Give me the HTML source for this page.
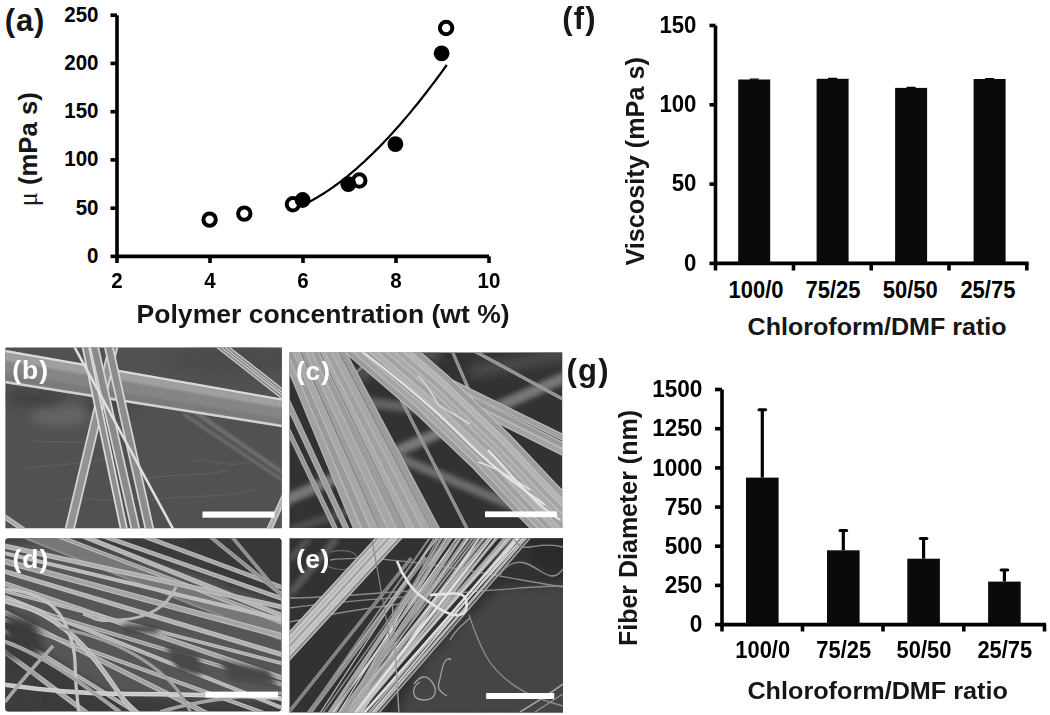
<!DOCTYPE html>
<html><head><meta charset="utf-8"><style>
html,body{margin:0;padding:0;background:#fff;}
body{width:1050px;height:715px;overflow:hidden;}
svg{display:block;}
text{font-family:"Liberation Sans", sans-serif;}
</style></head><body>
<svg width="1050" height="715" viewBox="0 0 1050 715">
<rect width="1050" height="715" fill="#fff"/>
<defs>
<filter id="b1" x="-50%" y="-50%" width="200%" height="200%"><feGaussianBlur stdDeviation="1"/></filter>
<filter id="b2" x="-50%" y="-50%" width="200%" height="200%"><feGaussianBlur stdDeviation="2.5"/></filter>
<filter id="b3" x="-50%" y="-50%" width="200%" height="200%"><feGaussianBlur stdDeviation="5"/></filter>
<filter id="b04" x="0" y="0" width="100%" height="100%"><feGaussianBlur stdDeviation="0.45"/></filter>
<filter id="b05" x="-50%" y="-50%" width="200%" height="200%"><feGaussianBlur stdDeviation="0.6"/></filter>
<clipPath id="cb"><rect x="5.4" y="347.4" width="276.5" height="180.8"/></clipPath>
<clipPath id="cc"><rect x="289.5" y="352.6" width="272.7" height="175.4"/></clipPath>
<clipPath id="cd"><rect x="5.2" y="538.3" width="276.2" height="173.2" rx="3"/></clipPath>
<clipPath id="ce"><rect x="289.5" y="538.2" width="273.5" height="174.3"/></clipPath>
</defs>
<g filter="url(#b04)">
<g clip-path="url(#cb)">
<rect x="0" y="340" width="290" height="195" fill="#515151"/>
<ellipse cx="60" cy="415" rx="30" ry="12" fill="#646464" filter="url(#b3)"/>
<ellipse cx="35" cy="398" rx="30" ry="9" fill="#424242" filter="url(#b3)"/>
<ellipse cx="110" cy="405" rx="25" ry="8" fill="#444" filter="url(#b3)"/>
<ellipse cx="230" cy="360" rx="60" ry="14" fill="#4c4c4c" filter="url(#b3)"/>
<g filter="url(#b1)"><line x1="193.2" y1="410.8" x2="296.8" y2="482.2" stroke="#7a7a7a" stroke-width="4"/><line x1="193.2" y1="410.8" x2="296.8" y2="482.2" stroke="#6a6a6a" stroke-width="2.00"/></g>
<g filter="url(#b1)"><line x1="183.6" y1="414.0" x2="298.4" y2="491.0" stroke="#727272" stroke-width="3"/><line x1="183.6" y1="414.0" x2="298.4" y2="491.0" stroke="#646464" stroke-width="1.00"/></g>
<path d="M20 470 C 50 462, 80 468, 120 455" fill="none" stroke="#5c5c5c" stroke-width="1.3" filter="url(#b05)"/>
<path d="M150 500 C 190 494, 220 500, 260 488" fill="none" stroke="#5c5c5c" stroke-width="1.3" filter="url(#b05)"/>
<path d="M190 462 C 205 455, 225 470, 250 462" fill="none" stroke="#5c5c5c" stroke-width="1.3" filter="url(#b05)"/>
<path d="M30 440 C 50 445, 70 438, 90 445" fill="none" stroke="#5c5c5c" stroke-width="1.3" filter="url(#b05)"/>
<path d="M140 480 C 170 472, 200 478, 230 470" fill="none" stroke="#5c5c5c" stroke-width="1.3" filter="url(#b05)"/>
<path d="M60 500 C 90 495, 110 505, 140 498" fill="none" stroke="#5c5c5c" stroke-width="1.3" filter="url(#b05)"/>
<g><line x1="201.7" y1="333.6" x2="299.3" y2="410.4" stroke="#cfcfcf" stroke-width="4.2"/><line x1="201.7" y1="333.6" x2="299.3" y2="410.4" stroke="#8a8a8a" stroke-width="1.80"/></g>
<g><line x1="209.7" y1="333.6" x2="307.3" y2="410.4" stroke="#cfcfcf" stroke-width="4.2"/><line x1="209.7" y1="333.6" x2="307.3" y2="410.4" stroke="#8a8a8a" stroke-width="1.80"/></g>
<polygon points="-5,348.2 295,401.0 295,429.1 -5,381.7" fill="#858585"/>
<polygon points="-5,350.2 295,402.7 295,410.0 -5,359.0" fill="#a0a0a0" filter="url(#b1)"/>
<polygon points="-5,371.7 295,420.7 295,426.9 -5,379.0" fill="#7a7a7a" filter="url(#b1)"/>
<line x1="-5" y1="349.2" x2="295" y2="401.9" stroke="#d8d8d8" stroke-width="2.4"/>
<line x1="-5" y1="380.5" x2="295" y2="428.1" stroke="#d2d2d2" stroke-width="2.4"/>
<g><line x1="117.3" y1="330.0" x2="65.7" y2="546.0" stroke="#d6d6d6" stroke-width="10"/><line x1="117.3" y1="330.0" x2="65.7" y2="546.0" stroke="#939393" stroke-width="6.60"/></g>
<g><line x1="82.2" y1="330.1" x2="127.2" y2="544.9" stroke="#dcdcdc" stroke-width="8"/><line x1="82.2" y1="330.1" x2="127.2" y2="544.9" stroke="#8e8e8e" stroke-width="4.60"/></g>
<g><line x1="90.3" y1="330.1" x2="139.1" y2="544.9" stroke="#d6d6d6" stroke-width="9.5"/><line x1="90.3" y1="330.1" x2="139.1" y2="544.9" stroke="#8a8a8a" stroke-width="6.10"/></g>
<g><line x1="105.0" y1="330.1" x2="153.0" y2="544.9" stroke="#d6d6d6" stroke-width="9.5"/><line x1="105.0" y1="330.1" x2="153.0" y2="544.9" stroke="#8c8c8c" stroke-width="6.10"/></g>
<g><line x1="65.3" y1="330.1" x2="181.7" y2="544.9" stroke="#dadada" stroke-width="2.6"/><line x1="65.3" y1="330.1" x2="181.7" y2="544.9" stroke="#e4e4e4" stroke-width="1.00"/></g>
<g><line x1="-11.0" y1="506.0" x2="37.0" y2="539.0" stroke="#ccc" stroke-width="5"/><line x1="-11.0" y1="506.0" x2="37.0" y2="539.0" stroke="#aaa" stroke-width="3.00"/></g>
<g><line x1="267.6" y1="533.3" x2="288.0" y2="488.2" stroke="#d0d0d0" stroke-width="6"/><line x1="267.6" y1="533.3" x2="288.0" y2="488.2" stroke="#b0b0b0" stroke-width="3.40"/></g>
</g>
<text x="12.3" y="379.3" font-size="26.5" font-weight="bold" fill="#fff" letter-spacing="1">(b)</text>
<rect x="202.5" y="511.5" width="72" height="6.2" fill="#fff"/>
<g clip-path="url(#cc)">
<rect x="280" y="345" width="290" height="190" fill="#323232"/>
<line x1="270" y1="507" x2="575" y2="373" stroke="#787878" stroke-width="11" filter="url(#b2)"/>
<line x1="385" y1="452" x2="575" y2="532" stroke="#6e6e6e" stroke-width="9" filter="url(#b2)"/>
<line x1="330" y1="398" x2="430" y2="410" stroke="#646464" stroke-width="10" filter="url(#b2)"/>
<line x1="289" y1="530" x2="400" y2="495" stroke="#505050" stroke-width="8" filter="url(#b2)"/>
<line x1="470" y1="372" x2="575" y2="352" stroke="#484848" stroke-width="14" filter="url(#b3)"/>
<line x1="289" y1="372" x2="340" y2="388" stroke="#5a5a5a" stroke-width="10" filter="url(#b2)"/>
<line x1="340" y1="380" x2="440" y2="352" stroke="#585858" stroke-width="10" filter="url(#b3)"/>
<g><line x1="450.2" y1="346.5" x2="492.2" y2="444.0" stroke="#9e9e9e" stroke-width="3.2"/><line x1="450.2" y1="346.5" x2="492.2" y2="444.0" stroke="#8e8e8e" stroke-width="1.60"/></g>
<g><line x1="469.7" y1="348.5" x2="569.3" y2="402.5" stroke="#a4a4a4" stroke-width="3.4"/><line x1="469.7" y1="348.5" x2="569.3" y2="402.5" stroke="#929292" stroke-width="1.80"/></g>
<g><line x1="378.9" y1="356.5" x2="471.5" y2="537.3" stroke="#a0a0a0" stroke-width="3.2"/><line x1="378.9" y1="356.5" x2="471.5" y2="537.3" stroke="#8a8a8a" stroke-width="1.60"/></g>
<g><line x1="324.0" y1="401.0" x2="369.0" y2="361.0" stroke="#8a8a8a" stroke-width="2.5"/><line x1="324.0" y1="401.0" x2="369.0" y2="361.0" stroke="#7a7a7a" stroke-width="1.30"/></g>
<g><line x1="350.8" y1="333.0" x2="575.2" y2="443.5" stroke="#bcbcbc" stroke-width="6.5"/><line x1="350.8" y1="333.0" x2="575.2" y2="443.5" stroke="#a0a0a0" stroke-width="4.30"/></g>
<g><line x1="350.8" y1="339.4" x2="575.2" y2="451.6" stroke="#bcbcbc" stroke-width="6.5"/><line x1="350.8" y1="339.4" x2="575.2" y2="451.6" stroke="#9a9a9a" stroke-width="4.30"/></g>
<g><line x1="350.8" y1="346.4" x2="575.2" y2="458.6" stroke="#bcbcbc" stroke-width="6.5"/><line x1="350.8" y1="346.4" x2="575.2" y2="458.6" stroke="#a4a4a4" stroke-width="4.30"/></g>
<g fill="none"><path stroke-linejoin="round" d="M312.8 319.2 L346.3 349.6 L415.4 409.0 L476.2 467.0 L520.4 514.0 L562.8 557.2" stroke="#c2c2c2" stroke-width="7"/><path stroke-linejoin="round" d="M312.8 319.2 L346.3 349.6 L415.4 409.0 L476.2 467.0 L520.4 514.0 L562.8 557.2" stroke="#9c9c9c" stroke-width="5.00"/></g>
<g fill="none"><path stroke-linejoin="round" d="M316.6 315.4 L350.1 345.8 L419.2 405.2 L480.0 463.2 L524.2 510.1 L566.6 553.4" stroke="#c2c2c2" stroke-width="7"/><path stroke-linejoin="round" d="M316.6 315.4 L350.1 345.8 L419.2 405.2 L480.0 463.2 L524.2 510.1 L566.6 553.4" stroke="#a6a6a6" stroke-width="5.00"/></g>
<g fill="none"><path stroke-linejoin="round" d="M320.5 311.5 L354.0 341.9 L423.1 401.3 L483.9 459.3 L528.1 506.3 L570.5 549.5" stroke="#c2c2c2" stroke-width="7"/><path stroke-linejoin="round" d="M320.5 311.5 L354.0 341.9 L423.1 401.3 L483.9 459.3 L528.1 506.3 L570.5 549.5" stroke="#a0a0a0" stroke-width="5.00"/></g>
<g fill="none"><path stroke-linejoin="round" d="M324.4 307.6 L357.9 338.0 L427.0 397.4 L487.8 455.4 L532.0 502.4 L574.4 545.6" stroke="#c2c2c2" stroke-width="7"/><path stroke-linejoin="round" d="M324.4 307.6 L357.9 338.0 L427.0 397.4 L487.8 455.4 L532.0 502.4 L574.4 545.6" stroke="#b0b0b0" stroke-width="5.00"/></g>
<g fill="none"><path stroke-linejoin="round" d="M328.2 303.8 L361.7 334.2 L430.8 393.6 L491.6 451.6 L535.8 498.6 L578.2 541.8" stroke="#c2c2c2" stroke-width="7"/><path stroke-linejoin="round" d="M328.2 303.8 L361.7 334.2 L430.8 393.6 L491.6 451.6 L535.8 498.6 L578.2 541.8" stroke="#a2a2a2" stroke-width="5.00"/></g>
<g fill="none"><path stroke-linejoin="round" d="M332.1 299.9 L365.6 330.3 L434.7 389.8 L495.4 447.8 L539.6 494.7 L582.0 538.0" stroke="#c2c2c2" stroke-width="7"/><path stroke-linejoin="round" d="M332.1 299.9 L365.6 330.3 L434.7 389.8 L495.4 447.8 L539.6 494.7 L582.0 538.0" stroke="#aaaaaa" stroke-width="5.00"/></g>
<g fill="none"><path stroke-linejoin="round" d="M335.9 296.1 L369.4 326.5 L438.5 385.9 L499.3 443.9 L543.5 490.9 L585.9 534.1" stroke="#c2c2c2" stroke-width="7"/><path stroke-linejoin="round" d="M335.9 296.1 L369.4 326.5 L438.5 385.9 L499.3 443.9 L543.5 490.9 L585.9 534.1" stroke="#a4a4a4" stroke-width="5.00"/></g>
<g fill="none"><path stroke-linejoin="round" d="M339.8 292.2 L373.2 322.6 L442.4 382.1 L503.1 440.1 L547.4 487.0 L589.8 530.2" stroke="#c2c2c2" stroke-width="7"/><path stroke-linejoin="round" d="M339.8 292.2 L373.2 322.6 L442.4 382.1 L503.1 440.1 L547.4 487.0 L589.8 530.2" stroke="#b4b4b4" stroke-width="5.00"/></g>
<g fill="none"><path stroke-linejoin="round" d="M343.6 288.4 L377.1 318.8 L446.2 378.2 L507.0 436.2 L551.2 483.2 L593.6 526.4" stroke="#c2c2c2" stroke-width="7"/><path stroke-linejoin="round" d="M343.6 288.4 L377.1 318.8 L446.2 378.2 L507.0 436.2 L551.2 483.2 L593.6 526.4" stroke="#9e9e9e" stroke-width="5.00"/></g>
<path d="M360 350 C 400 380, 430 405, 460 435 S 510 480, 545 505" fill="none" stroke="#e6e6e6" stroke-width="2"/>
<path d="M418 376 C 428 384, 432 395, 438 404 C 445 410, 458 416, 470 424" fill="none" stroke="#d8d8d8" stroke-width="1.6"/>
<path d="M478 462 C 492 466, 510 476, 530 490" fill="none" stroke="#e0e0e0" stroke-width="1.6"/>
<path d="M488 450 C 500 462, 515 480, 527 492 S 545 510, 560 520" fill="none" stroke="#e8e8e8" stroke-width="1.8"/>
<g><line x1="277.8" y1="335.5" x2="364.2" y2="545.5" stroke="#bcbcbc" stroke-width="8"/><line x1="277.8" y1="335.5" x2="364.2" y2="545.5" stroke="#a2a2a2" stroke-width="6.00"/></g>
<g><line x1="284.0" y1="335.5" x2="373.1" y2="545.5" stroke="#bcbcbc" stroke-width="8.5"/><line x1="284.0" y1="335.5" x2="373.1" y2="545.5" stroke="#9a9a9a" stroke-width="6.50"/></g>
<g><line x1="290.1" y1="335.5" x2="382.1" y2="545.5" stroke="#bcbcbc" stroke-width="9"/><line x1="290.1" y1="335.5" x2="382.1" y2="545.5" stroke="#a8a8a8" stroke-width="7.00"/></g>
<g><line x1="296.3" y1="335.5" x2="391.0" y2="545.5" stroke="#bcbcbc" stroke-width="9"/><line x1="296.3" y1="335.5" x2="391.0" y2="545.5" stroke="#9e9e9e" stroke-width="7.00"/></g>
<g><line x1="302.5" y1="335.5" x2="399.9" y2="545.5" stroke="#bcbcbc" stroke-width="9"/><line x1="302.5" y1="335.5" x2="399.9" y2="545.5" stroke="#a6a6a6" stroke-width="7.00"/></g>
<g><line x1="308.6" y1="335.5" x2="408.9" y2="545.5" stroke="#bcbcbc" stroke-width="9"/><line x1="308.6" y1="335.5" x2="408.9" y2="545.5" stroke="#9c9c9c" stroke-width="7.00"/></g>
<g><line x1="314.8" y1="335.5" x2="417.8" y2="545.5" stroke="#bcbcbc" stroke-width="9"/><line x1="314.8" y1="335.5" x2="417.8" y2="545.5" stroke="#aaaaaa" stroke-width="7.00"/></g>
<g><line x1="321.0" y1="335.5" x2="426.7" y2="545.5" stroke="#bcbcbc" stroke-width="9"/><line x1="321.0" y1="335.5" x2="426.7" y2="545.5" stroke="#a0a0a0" stroke-width="7.00"/></g>
<g><line x1="327.2" y1="335.5" x2="435.6" y2="545.5" stroke="#bcbcbc" stroke-width="9"/><line x1="327.2" y1="335.5" x2="435.6" y2="545.5" stroke="#a8a8a8" stroke-width="7.00"/></g>
<g><line x1="333.3" y1="335.5" x2="444.6" y2="545.5" stroke="#bcbcbc" stroke-width="8"/><line x1="333.3" y1="335.5" x2="444.6" y2="545.5" stroke="#9c9c9c" stroke-width="6.00"/></g>
<line x1="293.2" y1="335.5" x2="386.5" y2="545.5" stroke="#6a6a6a" stroke-width="0.8"/>
<line x1="311.7" y1="335.5" x2="413.3" y2="545.5" stroke="#6a6a6a" stroke-width="0.8"/>
<line x1="330.2" y1="335.5" x2="440.1" y2="545.5" stroke="#6a6a6a" stroke-width="0.8"/>
<g><line x1="232.0" y1="282.0" x2="357.4" y2="552.6" stroke="#b4b4b4" stroke-width="6"/><line x1="232.0" y1="282.0" x2="357.4" y2="552.6" stroke="#9c9c9c" stroke-width="4.00"/></g>
<g><line x1="243.0" y1="336.0" x2="344.2" y2="547.2" stroke="#aeaeae" stroke-width="5"/><line x1="243.0" y1="336.0" x2="344.2" y2="547.2" stroke="#969696" stroke-width="3.00"/></g>
</g>
<text x="296" y="379.5" font-size="26.5" font-weight="bold" fill="#fff" letter-spacing="0.8">(c)</text>
<rect x="485" y="511.4" width="72" height="5.8" fill="#fff"/>
<g clip-path="url(#cd)">
<rect x="0" y="530" width="290" height="190" fill="#3b3b3b"/>
<polygon points="0,545 60,538 200,575 290,610 290,700 200,700 100,690 40,650 0,600" fill="#575757" filter="url(#b3)"/>
<polygon points="185,538 290,538 290,590 230,585" fill="#383838" filter="url(#b2)"/>
<g><line x1="-10.0" y1="516.2" x2="300.0" y2="639.2" stroke="#8c8c8c" stroke-width="17"/><line x1="-10.0" y1="516.2" x2="300.0" y2="639.2" stroke="#777777" stroke-width="13.00"/></g>
<g><line x1="-10.0" y1="508.2" x2="300.0" y2="631.2" stroke="#a8a8a8" stroke-width="2.0"/><line x1="-10.0" y1="508.2" x2="300.0" y2="631.2" stroke="#a8a8a8" stroke-width="1.00"/></g>
<g><line x1="-10.0" y1="498.9" x2="300.0" y2="622.9" stroke="#bebebe" stroke-width="5"/><line x1="-10.0" y1="498.9" x2="300.0" y2="622.9" stroke="#b4b4b4" stroke-width="3.00"/></g>
<g><line x1="-10.0" y1="496.4" x2="300.0" y2="604.9" stroke="#bebebe" stroke-width="4.5"/><line x1="-10.0" y1="496.4" x2="300.0" y2="604.9" stroke="#a8a8a8" stroke-width="2.50"/></g>
<g><line x1="-10.0" y1="479.4" x2="300.0" y2="594.1" stroke="#bebebe" stroke-width="4.5"/><line x1="-10.0" y1="479.4" x2="300.0" y2="594.1" stroke="#a4a4a4" stroke-width="2.50"/></g>
<g><line x1="-10.0" y1="510.4" x2="300.0" y2="628.2" stroke="#bebebe" stroke-width="4"/><line x1="-10.0" y1="510.4" x2="300.0" y2="628.2" stroke="#9c9c9c" stroke-width="2.00"/></g>
<g><line x1="-10.0" y1="542.8" x2="300.0" y2="611.0" stroke="#c2c2c2" stroke-width="5"/><line x1="-10.0" y1="542.8" x2="300.0" y2="611.0" stroke="#b0b0b0" stroke-width="3.00"/></g>
<g><line x1="-10.0" y1="549.6" x2="300.0" y2="624.0" stroke="#c2c2c2" stroke-width="4"/><line x1="-10.0" y1="549.6" x2="300.0" y2="624.0" stroke="#bcbcbc" stroke-width="2.00"/></g>
<g><line x1="-10.0" y1="557.3" x2="300.0" y2="641.0" stroke="#c2c2c2" stroke-width="6"/><line x1="-10.0" y1="557.3" x2="300.0" y2="641.0" stroke="#a6a6a6" stroke-width="4.00"/></g>
<g><line x1="-10.0" y1="567.0" x2="300.0" y2="660.0" stroke="#c2c2c2" stroke-width="5"/><line x1="-10.0" y1="567.0" x2="300.0" y2="660.0" stroke="#b2b2b2" stroke-width="3.00"/></g>
<g><line x1="-10.0" y1="578.6" x2="300.0" y2="684.0" stroke="#c2c2c2" stroke-width="5"/><line x1="-10.0" y1="578.6" x2="300.0" y2="684.0" stroke="#a8a8a8" stroke-width="3.00"/></g>
<g><line x1="-10.0" y1="591.0" x2="300.0" y2="715.0" stroke="#c2c2c2" stroke-width="4"/><line x1="-10.0" y1="591.0" x2="300.0" y2="715.0" stroke="#b4b4b4" stroke-width="2.00"/></g>
<g><line x1="-10.0" y1="605.0" x2="300.0" y2="760.0" stroke="#c2c2c2" stroke-width="5"/><line x1="-10.0" y1="605.0" x2="300.0" y2="760.0" stroke="#a0a0a0" stroke-width="3.00"/></g>
<g><line x1="-10.0" y1="621.8" x2="300.0" y2="814.0" stroke="#c2c2c2" stroke-width="4"/><line x1="-10.0" y1="621.8" x2="300.0" y2="814.0" stroke="#a8a8a8" stroke-width="2.00"/></g>
<g><line x1="-10.0" y1="640.5" x2="300.0" y2="873.0" stroke="#c2c2c2" stroke-width="5"/><line x1="-10.0" y1="640.5" x2="300.0" y2="873.0" stroke="#a4a4a4" stroke-width="3.00"/></g>
<g><line x1="-10.0" y1="597.0" x2="300.0" y2="690.0" stroke="#c2c2c2" stroke-width="4"/><line x1="-10.0" y1="597.0" x2="300.0" y2="690.0" stroke="#9c9c9c" stroke-width="2.00"/></g>
<g><line x1="-10.0" y1="614.4" x2="300.0" y2="726.0" stroke="#c2c2c2" stroke-width="4"/><line x1="-10.0" y1="614.4" x2="300.0" y2="726.0" stroke="#a2a2a2" stroke-width="2.00"/></g>
<g><line x1="-10.0" y1="587.4" x2="300.0" y2="668.0" stroke="#c2c2c2" stroke-width="3.5"/><line x1="-10.0" y1="587.4" x2="300.0" y2="668.0" stroke="#aaaaaa" stroke-width="1.50"/></g>
<g><line x1="32.0" y1="392.0" x2="398.0" y2="689.0" stroke="#a8a8a8" stroke-width="4"/><line x1="32.0" y1="392.0" x2="398.0" y2="689.0" stroke="#8e8e8e" stroke-width="2.00"/></g>
<g><line x1="145.0" y1="432.8" x2="325.0" y2="648.2" stroke="#a0a0a0" stroke-width="3.5"/><line x1="145.0" y1="432.8" x2="325.0" y2="648.2" stroke="#8a8a8a" stroke-width="1.50"/></g>
<polygon points="122,624 156,626 160,633 125,632" fill="#444" filter="url(#b2)"/>
<polygon points="165,645 198,655 202,676 178,670" fill="#464646" filter="url(#b2)"/>
<polygon points="218,660 268,670 278,686 232,680" fill="#474747" filter="url(#b2)"/>
<polygon points="5,614 36,620 44,656 5,658" fill="#3a3a3a" filter="url(#b3)"/>
<polygon points="5,674 32,677 38,712 5,712" fill="#3c3c3c" filter="url(#b3)"/>
<g fill="none"><path d="M0 684 C 40 690, 90 694, 130 694 S 190 695, 240 696 S 270 698, 290 700" stroke="#d6d6d6" stroke-width="4.5"/><path d="M0 684 C 40 690, 90 694, 130 694 S 190 695, 240 696 S 270 698, 290 700" stroke="#c8c8c8" stroke-width="2.50"/></g>
<g fill="none"><path d="M176 587 C 168 605, 150 618, 120 620 S 95 617, 83 614" stroke="#c0c0c0" stroke-width="3"/><path d="M176 587 C 168 605, 150 618, 120 620 S 95 617, 83 614" stroke="#b4b4b4" stroke-width="1.40"/></g>
<g fill="none"><path d="M5 589 C 35 592, 58 602, 68 630 S 74 665, 76 685 S 78 705, 79 716" stroke="#c8c8c8" stroke-width="3.2"/><path d="M5 589 C 35 592, 58 602, 68 630 S 74 665, 76 685 S 78 705, 79 716" stroke="#c0c0c0" stroke-width="1.60"/></g>
<g fill="none"><path d="M5 702 C 18 685, 35 665, 53 646" stroke="#b0b0b0" stroke-width="3.5"/><path d="M5 702 C 18 685, 35 665, 53 646" stroke="#a4a4a4" stroke-width="1.90"/></g>
<g fill="none"><path d="M0 600 C 40 606, 70 628, 95 660 S 120 700, 140 715" stroke="#cdcdcd" stroke-width="5"/><path d="M0 600 C 40 606, 70 628, 95 660 S 120 700, 140 715" stroke="#b8b8b8" stroke-width="3.00"/></g>
<g fill="none"><path d="M0 640 C 30 650, 60 668, 90 690 S 110 705, 120 712" stroke="#b0b0b0" stroke-width="4"/><path d="M0 640 C 30 650, 60 668, 90 690 S 110 705, 120 712" stroke="#a0a0a0" stroke-width="2.40"/></g>
<g fill="none"><path d="M60 628 C 120 640, 175 670, 192 716" stroke="#a8a8a8" stroke-width="3"/><path d="M60 628 C 120 640, 175 670, 192 716" stroke="#9a9a9a" stroke-width="1.40"/></g>
<g fill="none"><path d="M160 712 C 200 700, 240 695, 290 693" stroke="#b0b0b0" stroke-width="3.5"/><path d="M160 712 C 200 700, 240 695, 290 693" stroke="#a0a0a0" stroke-width="1.90"/></g>
</g>
<text x="12.5" y="567.5" font-size="26.5" font-weight="bold" fill="#fff" letter-spacing="1">(d)</text>
<rect x="205.5" y="691.6" width="72.5" height="6" fill="#fff"/>
<g clip-path="url(#ce)">
<rect x="280" y="530" width="290" height="190" fill="#303030"/>
<polygon points="395,716 425,660 460,625 500,588 575,584 575,720" fill="#444" filter="url(#b3)"/>
<polygon points="525,536 575,536 575,572 540,566" fill="#2a2a2a" filter="url(#b2)"/>
<line x1="290" y1="594" x2="337" y2="538" stroke="#5c5c5c" stroke-width="7" filter="url(#b2)"/>
<line x1="289" y1="560" x2="310" y2="538" stroke="#585858" stroke-width="6" filter="url(#b2)"/>
<path d="M289 608 C 350 600, 420 596, 470 592 S 540 586, 563 586" fill="none" stroke="#8a8a8a" stroke-width="1.3"/>
<path d="M289 598 C 330 598, 380 592, 430 590" fill="none" stroke="#8a8a8a" stroke-width="1.3"/>
<path d="M330 560 C 360 556, 400 560, 440 566 S 520 580, 563 587" fill="none" stroke="#8a8a8a" stroke-width="1.3"/>
<path d="M289 622 C 330 614, 380 606, 430 600" fill="none" stroke="#8a8a8a" stroke-width="1.3"/>
<path d="M330 552 C 350 548, 360 553, 356 563 S 335 570, 325 565" fill="none" stroke="#6a6a6a" stroke-width="1.2"/>
<g><line x1="263.3" y1="662.6" x2="403.3" y2="510.4" stroke="#d4d4d4" stroke-width="4.2"/><line x1="263.3" y1="662.6" x2="403.3" y2="510.4" stroke="#9a9a9a" stroke-width="2.20"/></g>
<g><line x1="266.3" y1="665.3" x2="406.3" y2="513.2" stroke="#d4d4d4" stroke-width="4.2"/><line x1="266.3" y1="665.3" x2="406.3" y2="513.2" stroke="#b4b4b4" stroke-width="2.20"/></g>
<g><line x1="269.3" y1="668.1" x2="409.3" y2="515.9" stroke="#d4d4d4" stroke-width="4.2"/><line x1="269.3" y1="668.1" x2="409.3" y2="515.9" stroke="#a0a0a0" stroke-width="2.20"/></g>
<g><line x1="272.2" y1="670.8" x2="412.2" y2="518.6" stroke="#d4d4d4" stroke-width="4.2"/><line x1="272.2" y1="670.8" x2="412.2" y2="518.6" stroke="#bcbcbc" stroke-width="2.20"/></g>
<g><line x1="275.2" y1="673.5" x2="415.2" y2="521.3" stroke="#d4d4d4" stroke-width="4.2"/><line x1="275.2" y1="673.5" x2="415.2" y2="521.3" stroke="#8e8e8e" stroke-width="2.20"/></g>
<g><line x1="275.5" y1="729.0" x2="411.2" y2="558.0" stroke="#999" stroke-width="3.5"/><line x1="275.5" y1="729.0" x2="411.2" y2="558.0" stroke="#7c7c7c" stroke-width="1.90"/></g>
<g><line x1="297.3" y1="730.8" x2="425.8" y2="557.1" stroke="#a0a0a0" stroke-width="3"/><line x1="297.3" y1="730.8" x2="425.8" y2="557.1" stroke="#8a8a8a" stroke-width="1.60"/></g>
<line x1="359.0" y1="716" x2="480.3" y2="536" stroke="#e0e0e0" stroke-width="2.2"/>
<line x1="343.2" y1="716" x2="485.4" y2="536" stroke="#e0e0e0" stroke-width="2.8"/>
<line x1="356.0" y1="716" x2="506.5" y2="536" stroke="#aaaaaa" stroke-width="2.8"/>
<line x1="350.3" y1="716" x2="512.8" y2="536" stroke="#b0b0b0" stroke-width="2.2"/>
<line x1="347.7" y1="716" x2="498.5" y2="536" stroke="#9a9a9a" stroke-width="2.8"/>
<line x1="344.3" y1="716" x2="441.8" y2="536" stroke="#9a9a9a" stroke-width="2.2"/>
<line x1="337.1" y1="716" x2="469.4" y2="536" stroke="#c8c8c8" stroke-width="1.8"/>
<line x1="349.5" y1="716" x2="485.3" y2="536" stroke="#a0a0a0" stroke-width="2.2"/>
<line x1="376.1" y1="716" x2="531.8" y2="536" stroke="#a0a0a0" stroke-width="1.8"/>
<line x1="348.2" y1="716" x2="506.8" y2="536" stroke="#aaaaaa" stroke-width="2.2"/>
<line x1="326.4" y1="716" x2="447.8" y2="536" stroke="#9a9a9a" stroke-width="1.2"/>
<line x1="329.7" y1="716" x2="462.2" y2="536" stroke="#b0b0b0" stroke-width="2.2"/>
<line x1="340.5" y1="716" x2="477.5" y2="536" stroke="#a0a0a0" stroke-width="1.8"/>
<line x1="347.2" y1="716" x2="446.3" y2="536" stroke="#aaaaaa" stroke-width="1.5"/>
<line x1="331.1" y1="716" x2="458.5" y2="536" stroke="#e0e0e0" stroke-width="1.5"/>
<line x1="357.1" y1="716" x2="497.5" y2="536" stroke="#b8b8b8" stroke-width="2.2"/>
<line x1="353.6" y1="716" x2="493.6" y2="536" stroke="#c8c8c8" stroke-width="1.2"/>
<line x1="349.7" y1="716" x2="467.5" y2="536" stroke="#a0a0a0" stroke-width="1.2"/>
<line x1="348.9" y1="716" x2="457.7" y2="536" stroke="#aaaaaa" stroke-width="1.2"/>
<line x1="361.8" y1="716" x2="524.8" y2="536" stroke="#d4d4d4" stroke-width="1.8"/>
<line x1="339.5" y1="716" x2="470.6" y2="536" stroke="#c8c8c8" stroke-width="1.2"/>
<line x1="352.9" y1="716" x2="491.9" y2="536" stroke="#e0e0e0" stroke-width="2.8"/>
<line x1="340.8" y1="716" x2="451.0" y2="536" stroke="#a0a0a0" stroke-width="1.5"/>
<line x1="354.2" y1="716" x2="510.0" y2="536" stroke="#c8c8c8" stroke-width="2.2"/>
<line x1="362.0" y1="716" x2="518.5" y2="536" stroke="#aaaaaa" stroke-width="1.2"/>
<line x1="328.1" y1="716" x2="447.1" y2="536" stroke="#b0b0b0" stroke-width="1.8"/>
<line x1="347.5" y1="716" x2="480.3" y2="536" stroke="#b8b8b8" stroke-width="1.2"/>
<line x1="341.1" y1="716" x2="451.0" y2="536" stroke="#aaaaaa" stroke-width="1.8"/>
<line x1="346.4" y1="716" x2="462.0" y2="536" stroke="#aaaaaa" stroke-width="1.8"/>
<line x1="336.5" y1="716" x2="474.2" y2="536" stroke="#a0a0a0" stroke-width="1.8"/>
<line x1="341.8" y1="716" x2="490.5" y2="536" stroke="#b8b8b8" stroke-width="2.2"/>
<line x1="371.9" y1="716" x2="527.5" y2="536" stroke="#b8b8b8" stroke-width="2.8"/>
<line x1="344.1" y1="716" x2="439.2" y2="536" stroke="#a0a0a0" stroke-width="1.2"/>
<line x1="333.3" y1="716" x2="443.0" y2="536" stroke="#a0a0a0" stroke-width="1.8"/>
<line x1="336.7" y1="716" x2="448.6" y2="536" stroke="#d4d4d4" stroke-width="1.2"/>
<line x1="369.4" y1="716" x2="521.1" y2="536" stroke="#d4d4d4" stroke-width="1.8"/>
<line x1="325.8" y1="716" x2="447.3" y2="536" stroke="#b0b0b0" stroke-width="1.2"/>
<line x1="366.2" y1="716" x2="516.6" y2="536" stroke="#b0b0b0" stroke-width="2.2"/>
<line x1="343.3" y1="716" x2="492.1" y2="536" stroke="#aaaaaa" stroke-width="1.8"/>
<line x1="361.1" y1="716" x2="519.2" y2="536" stroke="#e0e0e0" stroke-width="2.2"/>
<line x1="320.8" y1="716" x2="447.1" y2="536" stroke="#8a8a8a" stroke-width="1.6"/>
<line x1="327.1" y1="716" x2="451.5" y2="536" stroke="#9a9a9a" stroke-width="2.0"/>
<line x1="305.1" y1="716" x2="438.5" y2="536" stroke="#bcbcbc" stroke-width="1.6"/>
<line x1="340.3" y1="716" x2="461.4" y2="536" stroke="#9a9a9a" stroke-width="2.0"/>
<line x1="327.5" y1="716" x2="453.1" y2="536" stroke="#aaaaaa" stroke-width="2.0"/>
<line x1="341.9" y1="716" x2="466.8" y2="536" stroke="#9a9a9a" stroke-width="1.6"/>
<line x1="318.2" y1="716" x2="435.7" y2="536" stroke="#bcbcbc" stroke-width="1.2"/>
<line x1="339.6" y1="716" x2="461.1" y2="536" stroke="#aaaaaa" stroke-width="1.2"/>
<line x1="306.1" y1="716" x2="431.0" y2="536" stroke="#8a8a8a" stroke-width="2.0"/>
<line x1="399" y1="714" x2="392" y2="600" stroke="#9a9a9a" stroke-width="1.4"/>
<line x1="372" y1="540" x2="390" y2="640" stroke="#8a8a8a" stroke-width="1.2"/>
<path d="M397 561 C 402 575, 412 590, 422 597 S 445 614, 455 615 S 468 610, 466 600 S 450 594, 430 595" fill="none" stroke="#e4e4e4" stroke-width="2.6"/>
<path d="M469 615 C 474 630, 480 645, 486 656 S 500 675, 512 684 S 540 700, 563 706" fill="none" stroke="#8c8c8c" stroke-width="1.3"/>
<path d="M515 540 C 518 546, 522 548, 530 547 S 550 543, 563 547" fill="none" stroke="#8e8e8e" stroke-width="1.4"/>
<path d="M500 575 C 505 566, 515 560, 525 563 S 545 576, 552 576 S 560 572, 563 569" fill="none" stroke="#8e8e8e" stroke-width="1.4"/>
<path d="M420 682 C 410 688, 412 700, 424 700 S 438 690, 432 682 S 420 676, 414 684" fill="none" stroke="#a0a0a0" stroke-width="1.3"/>
<path d="M451 660 C 447 656, 443 662, 441 674 S 434 688, 447 696" fill="none" stroke="#a0a0a0" stroke-width="1.3"/>
<path d="M450 640 C 455 630, 462 625, 470 618" fill="none" stroke="#9a9a9a" stroke-width="1.2"/>
<path d="M520 712 C 540 700, 555 690, 563 684" fill="none" stroke="#a0a0a0" stroke-width="1.6"/>
<path d="M535 712 C 548 704, 556 698, 563 694" fill="none" stroke="#909090" stroke-width="1.4"/>
</g>
<text x="296" y="567.6" font-size="26.5" font-weight="bold" fill="#fff" letter-spacing="0.5">(e)</text>
<rect x="486.2" y="693" width="68" height="6" fill="#fff"/>
</g>
<text x="4.8" y="31" font-size="31" font-weight="bold" fill="#161616" letter-spacing="0.8">(a)</text>
<path d="M117 15.2 V256.4 H489" fill="none" stroke="#000" stroke-width="3.6"/>
<line x1="110.5" y1="256.4" x2="117" y2="256.4" stroke="#000" stroke-width="3.6"/>
<text transform="translate(98.5,262.8) scale(1,1.09)" font-size="20.5" font-weight="bold" text-anchor="end">0</text>
<line x1="110.5" y1="208.2" x2="117" y2="208.2" stroke="#000" stroke-width="3.6"/>
<text transform="translate(98.5,214.6) scale(1,1.09)" font-size="20.5" font-weight="bold" text-anchor="end">50</text>
<line x1="110.5" y1="159.9" x2="117" y2="159.9" stroke="#000" stroke-width="3.6"/>
<text transform="translate(98.5,166.3) scale(1,1.09)" font-size="20.5" font-weight="bold" text-anchor="end">100</text>
<line x1="110.5" y1="111.7" x2="117" y2="111.7" stroke="#000" stroke-width="3.6"/>
<text transform="translate(98.5,118.1) scale(1,1.09)" font-size="20.5" font-weight="bold" text-anchor="end">150</text>
<line x1="110.5" y1="63.4" x2="117" y2="63.4" stroke="#000" stroke-width="3.6"/>
<text transform="translate(98.5,69.8) scale(1,1.09)" font-size="20.5" font-weight="bold" text-anchor="end">200</text>
<line x1="110.5" y1="15.2" x2="117" y2="15.2" stroke="#000" stroke-width="3.6"/>
<text transform="translate(98.5,21.6) scale(1,1.09)" font-size="20.5" font-weight="bold" text-anchor="end">250</text>
<line x1="117.0" y1="256.4" x2="117.0" y2="263" stroke="#000" stroke-width="3.6"/>
<text transform="translate(117.0,287.8) scale(1,1.09)" font-size="20.5" font-weight="bold" text-anchor="middle">2</text>
<line x1="210.0" y1="256.4" x2="210.0" y2="263" stroke="#000" stroke-width="3.6"/>
<text transform="translate(210.0,287.8) scale(1,1.09)" font-size="20.5" font-weight="bold" text-anchor="middle">4</text>
<line x1="303.0" y1="256.4" x2="303.0" y2="263" stroke="#000" stroke-width="3.6"/>
<text transform="translate(303.0,287.8) scale(1,1.09)" font-size="20.5" font-weight="bold" text-anchor="middle">6</text>
<line x1="396.0" y1="256.4" x2="396.0" y2="263" stroke="#000" stroke-width="3.6"/>
<text transform="translate(396.0,287.8) scale(1,1.09)" font-size="20.5" font-weight="bold" text-anchor="middle">8</text>
<line x1="489.0" y1="256.4" x2="489.0" y2="263" stroke="#000" stroke-width="3.6"/>
<text transform="translate(489.0,287.8) scale(1,1.09)" font-size="20.5" font-weight="bold" text-anchor="middle">10</text>
<text x="136.6" y="323.2" font-size="26.5" font-weight="bold" fill="#161616" textLength="373" lengthAdjust="spacingAndGlyphs">Polymer concentration (wt %)</text>
<text transform="translate(36.6,206.2) rotate(-90)" font-size="26.5" fill="#161616" textLength="114" lengthAdjust="spacingAndGlyphs"><tspan font-family="Liberation Serif" font-size="27" fill="#1a1a1a">μ</tspan><tspan font-weight="bold"> (mPa s)</tspan></text>
<polyline points="306.0,203.6 308.9,202.1 311.9,200.5 314.8,198.8 317.7,197.1 320.7,195.3 323.6,193.5 326.5,191.6 329.5,189.6 332.4,187.6 335.3,185.5 338.3,183.3 341.2,181.1 344.1,178.8 347.1,176.5 350.0,174.1 352.9,171.6 355.9,169.1 358.8,166.5 361.7,163.9 364.7,161.2 367.6,158.4 370.5,155.6 373.5,152.8 376.4,149.9 379.3,146.9 382.3,143.9 385.2,140.8 388.1,137.7 391.1,134.5 394.0,131.3 396.9,128.0 399.9,124.7 402.8,121.3 405.7,117.9 408.7,114.4 411.6,110.9 414.5,107.3 417.5,103.7 420.4,100.0 423.3,96.3 426.3,92.5 429.2,88.7 432.1,84.9 435.1,81.0 438.0,77.0 440.9,73.1 443.9,69.0 446.8,65.0" fill="none" stroke="#000" stroke-width="2.2"/>
<circle cx="209.6" cy="219.6" r="6.2" fill="#fff" stroke="#000" stroke-width="4.0"/>
<circle cx="244.3" cy="213.6" r="6.2" fill="#fff" stroke="#000" stroke-width="4.0"/>
<circle cx="292.9" cy="204.3" r="6.2" fill="#fff" stroke="#000" stroke-width="4.0"/>
<circle cx="359.3" cy="180.5" r="6.2" fill="#fff" stroke="#000" stroke-width="4.0"/>
<circle cx="446.1" cy="28" r="6.2" fill="#fff" stroke="#000" stroke-width="4.0"/>
<circle cx="302.6" cy="200" r="7.9" fill="#000"/>
<circle cx="348.3" cy="184.2" r="7.9" fill="#000"/>
<circle cx="395.4" cy="144.1" r="7.9" fill="#000"/>
<circle cx="441.6" cy="53.3" r="7.9" fill="#000"/>
<text x="562.3" y="29.3" font-size="31" font-weight="bold" fill="#161616" letter-spacing="1.2">(f)</text>
<path d="M715.5 25.5 V263.4 H1028.6" fill="none" stroke="#000" stroke-width="3.6"/>
<line x1="709.5" y1="263.4" x2="715.5" y2="263.4" stroke="#000" stroke-width="3.6"/>
<text transform="translate(696.4,270.7) scale(1,1.08)" font-size="22.2" font-weight="bold" text-anchor="end">0</text>
<line x1="709.5" y1="184.1" x2="715.5" y2="184.1" stroke="#000" stroke-width="3.6"/>
<text transform="translate(696.4,191.4) scale(1,1.08)" font-size="22.2" font-weight="bold" text-anchor="end">50</text>
<line x1="709.5" y1="104.8" x2="715.5" y2="104.8" stroke="#000" stroke-width="3.6"/>
<text transform="translate(696.4,112.1) scale(1,1.08)" font-size="22.2" font-weight="bold" text-anchor="end">100</text>
<line x1="709.5" y1="25.5" x2="715.5" y2="25.5" stroke="#000" stroke-width="3.6"/>
<text transform="translate(696.4,32.8) scale(1,1.08)" font-size="22.2" font-weight="bold" text-anchor="end">150</text>
<line x1="715.5" y1="263.4" x2="715.5" y2="270.5" stroke="#000" stroke-width="3.6"/>
<line x1="793.5" y1="263.4" x2="793.5" y2="270.5" stroke="#000" stroke-width="3.6"/>
<line x1="871.2" y1="263.4" x2="871.2" y2="270.5" stroke="#000" stroke-width="3.6"/>
<line x1="949" y1="263.4" x2="949" y2="270.5" stroke="#000" stroke-width="3.6"/>
<line x1="1026.8" y1="263.4" x2="1026.8" y2="270.5" stroke="#000" stroke-width="3.6"/>
<rect x="738.2" y="79.5" width="32" height="183.9" fill="#0a0a0a"/>
<line x1="750.2" y1="79.1" x2="758.2" y2="79.1" stroke="#000" stroke-width="1.4" stroke-linecap="round"/>
<text transform="translate(756.0,297.8) scale(1,1.05)" font-size="22" font-weight="bold" text-anchor="middle">100/0</text>
<rect x="816.6" y="78.8" width="32" height="184.6" fill="#0a0a0a"/>
<line x1="828.6" y1="78.4" x2="836.6" y2="78.4" stroke="#000" stroke-width="1.4" stroke-linecap="round"/>
<text transform="translate(833.0,297.8) scale(1,1.05)" font-size="22" font-weight="bold" text-anchor="middle">75/25</text>
<rect x="895.1" y="87.9" width="32" height="175.5" fill="#0a0a0a"/>
<line x1="907.1" y1="87.5" x2="915.1" y2="87.5" stroke="#000" stroke-width="1.4" stroke-linecap="round"/>
<text transform="translate(910.3,297.8) scale(1,1.05)" font-size="22" font-weight="bold" text-anchor="middle">50/50</text>
<rect x="973.6" y="79.0" width="32" height="184.4" fill="#0a0a0a"/>
<line x1="985.6" y1="78.6" x2="993.6" y2="78.6" stroke="#000" stroke-width="1.4" stroke-linecap="round"/>
<text transform="translate(987.9,297.8) scale(1,1.05)" font-size="22" font-weight="bold" text-anchor="middle">25/75</text>
<text x="747.6" y="335.4" font-size="24" font-weight="bold" fill="#161616" textLength="259" lengthAdjust="spacingAndGlyphs">Chloroform/DMF ratio</text>
<text transform="translate(644.3,265.6) rotate(-90)" font-size="25" font-weight="bold" fill="#161616" textLength="208.5" lengthAdjust="spacingAndGlyphs">Viscosity (mPa s)</text>
<text x="566.5" y="380.6" font-size="31" font-weight="bold" fill="#161616" letter-spacing="1.3">(g)</text>
<path d="M722 389.5 V624.6 H1046" fill="none" stroke="#000" stroke-width="3.6"/>
<line x1="715" y1="624.6" x2="722" y2="624.6" stroke="#000" stroke-width="3.6"/>
<text transform="translate(702.4,632.2) scale(1,1.04)" font-size="22.6" font-weight="bold" text-anchor="end">0</text>
<line x1="715" y1="585.4" x2="722" y2="585.4" stroke="#000" stroke-width="3.6"/>
<text transform="translate(702.4,593.0) scale(1,1.04)" font-size="22.6" font-weight="bold" text-anchor="end">250</text>
<line x1="715" y1="546.2" x2="722" y2="546.2" stroke="#000" stroke-width="3.6"/>
<text transform="translate(702.4,553.8) scale(1,1.04)" font-size="22.6" font-weight="bold" text-anchor="end">500</text>
<line x1="715" y1="507.1" x2="722" y2="507.1" stroke="#000" stroke-width="3.6"/>
<text transform="translate(702.4,514.6) scale(1,1.04)" font-size="22.6" font-weight="bold" text-anchor="end">750</text>
<line x1="715" y1="467.9" x2="722" y2="467.9" stroke="#000" stroke-width="3.6"/>
<text transform="translate(702.4,475.5) scale(1,1.04)" font-size="22.6" font-weight="bold" text-anchor="end">1000</text>
<line x1="715" y1="428.7" x2="722" y2="428.7" stroke="#000" stroke-width="3.6"/>
<text transform="translate(702.4,436.3) scale(1,1.04)" font-size="22.6" font-weight="bold" text-anchor="end">1250</text>
<line x1="715" y1="389.5" x2="722" y2="389.5" stroke="#000" stroke-width="3.6"/>
<text transform="translate(702.4,397.1) scale(1,1.04)" font-size="22.6" font-weight="bold" text-anchor="end">1500</text>
<line x1="722" y1="624.6" x2="722" y2="631.5" stroke="#000" stroke-width="3.6"/>
<line x1="802.5" y1="624.6" x2="802.5" y2="631.5" stroke="#000" stroke-width="3.6"/>
<line x1="883" y1="624.6" x2="883" y2="631.5" stroke="#000" stroke-width="3.6"/>
<line x1="963.8" y1="624.6" x2="963.8" y2="631.5" stroke="#000" stroke-width="3.6"/>
<line x1="1044.5" y1="624.6" x2="1044.5" y2="631.5" stroke="#000" stroke-width="3.6"/>
<line x1="762.3" y1="409.8" x2="762.3" y2="477.6" stroke="#000" stroke-width="3.2"/>
<line x1="759.0" y1="409.8" x2="765.6" y2="409.8" stroke="#000" stroke-width="3.0" stroke-linecap="round"/>
<rect x="746.0" y="477.6" width="32.6" height="147.0" fill="#0a0a0a"/>
<text transform="translate(762.7,658.3) scale(1,1.05)" font-size="21.9" font-weight="bold" text-anchor="middle">100/0</text>
<line x1="843.3" y1="530.6" x2="843.3" y2="550.3" stroke="#000" stroke-width="3.2"/>
<line x1="840.0" y1="530.6" x2="846.6" y2="530.6" stroke="#000" stroke-width="3.0" stroke-linecap="round"/>
<rect x="827.0" y="550.3" width="32.6" height="74.3" fill="#0a0a0a"/>
<text transform="translate(843.7,658.3) scale(1,1.05)" font-size="21.9" font-weight="bold" text-anchor="middle">75/25</text>
<line x1="923.6" y1="538.5" x2="923.6" y2="558.7" stroke="#000" stroke-width="3.2"/>
<line x1="920.3" y1="538.5" x2="926.9" y2="538.5" stroke="#000" stroke-width="3.0" stroke-linecap="round"/>
<rect x="907.3" y="558.7" width="32.6" height="65.9" fill="#0a0a0a"/>
<text transform="translate(924.0,658.3) scale(1,1.05)" font-size="21.9" font-weight="bold" text-anchor="middle">50/50</text>
<line x1="1004.4" y1="570.1" x2="1004.4" y2="581.6" stroke="#000" stroke-width="3.2"/>
<line x1="1001.1" y1="570.1" x2="1007.7" y2="570.1" stroke="#000" stroke-width="3.0" stroke-linecap="round"/>
<rect x="988.1" y="581.6" width="32.6" height="43.0" fill="#0a0a0a"/>
<text transform="translate(1004.8,658.3) scale(1,1.05)" font-size="21.9" font-weight="bold" text-anchor="middle">25/75</text>
<text x="747.4" y="699" font-size="24" font-weight="bold" fill="#161616" textLength="260.5" lengthAdjust="spacingAndGlyphs">Chloroform/DMF ratio</text>
<text transform="translate(637,646) rotate(-90)" font-size="25" font-weight="bold" fill="#161616" textLength="236" lengthAdjust="spacingAndGlyphs">Fiber Diameter (nm)</text>
</svg>
</body></html>
